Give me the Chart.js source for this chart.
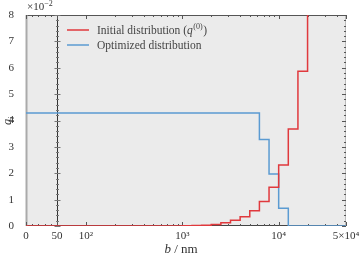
<!DOCTYPE html>
<html>
<head>
<meta charset="utf-8">
<script src="https://cdn.jsdelivr.net/npm/chart.js@4"></script>
<style>
  html, body { margin: 0; padding: 0; background: #fff; }
  #wrap { width: 364px; height: 257px; }
</style>
</head>
<body>
<div id="wrap"><canvas id="chart" width="364" height="257"></canvas></div>
<script>
// bin edges in nm, one value per bin
const initialEdges = [0, 1000, 1259, 1585, 1995, 2512, 3162, 3981, 5012, 6310, 7943, 10000, 12589, 15849, 19953, 25119, 31623, 50000];
const initialValues = [0, 0.0001, 0.0002, 0.0003, 0.0006, 0.0012, 0.0022, 0.0035, 0.0058, 0.0093, 0.0147, 0.0231, 0.0368, 0.0587, 0.093, 0.14, 0.2];
const optimizedEdges = [0, 6310, 7943, 10000, 12589, 50000];
const optimizedValues = [0.0428, 0.0328, 0.0197, 0.0067, 0];

const xMajorTicks = [0, 50, 100, 1000, 10000, 50000];
const xTickLabels = ['0', '50', '10²', '10³', '10⁴', '5×10⁴'];
const xMinorTicks = [10, 20, 30, 40, 200, 300, 400, 500, 600, 700, 800, 900,
  2000, 3000, 4000, 5000, 6000, 7000, 8000, 9000, 20000, 30000, 40000];
const yMajorTicks = [0, 0.01, 0.02, 0.03, 0.04, 0.05, 0.06, 0.07, 0.08];
const yTickLabels = ['0', '1', '2', '3', '4', '5', '6', '7', '8'];

// linear 0..50 nm, then log10 up to 5e4 nm
const BREAK = 50, LIN_WIDTH = 0.322;
const fx = b => b <= BREAK ? LIN_WIDTH * b / BREAK : LIN_WIDTH + Math.log10(b / BREAK);
const steps = (edges, vals) => edges.map((b, i) => ({ x: fx(b), y: vals[Math.min(i, vals.length - 1)] }));

const SERIF = '"Liberation Serif", "DejaVu Serif", serif';
const RED = '#e0393d', BLUE = '#5b9bd2';

const frame = {
  id: 'frame',
  beforeDatasetsDraw(chart) {
    const { ctx, chartArea: a, scales: { x, y } } = chart;
    ctx.save();
    ctx.fillStyle = '#ebebeb';
    ctx.fillRect(a.left, a.top, a.right - a.left, a.bottom - a.top);

    const line = (x1, y1, x2, y2, col, w) => {
      ctx.strokeStyle = col; ctx.lineWidth = w;
      ctx.beginPath(); ctx.moveTo(x1, y1); ctx.lineTo(x2, y2); ctx.stroke();
    };
    line(a.left, a.top + 0.5, a.right, a.top + 0.5, '#555', 1);
    line(a.left, a.bottom - 0.5, a.right, a.bottom - 0.5, '#444', 1);
    line(a.right - 0.5, a.top, a.right - 0.5, a.bottom, '#bbb', 1);
    line(a.left + 0.5, a.top, a.left + 0.5, a.bottom, '#aaa', 2);
    const xb = Math.round(x.getPixelForValue(fx(BREAK))) + 0.5;
    line(xb, a.top, xb, a.bottom, '#333', 1);

    // inward tick marks
    const tickCol = '#555';
    xMajorTicks.forEach(v => {
      const px = Math.round(x.getPixelForValue(fx(v))) + 0.5;
      line(px, a.bottom, px, a.bottom - 4, tickCol, 1);
      line(px, a.top, px, a.top + 4, tickCol, 1);
    });
    xMinorTicks.forEach(v => {
      const px = Math.round(x.getPixelForValue(fx(v))) + 0.5;
      line(px, a.bottom, px, a.bottom - 2, tickCol, 1);
      line(px, a.top, px, a.top + 2, tickCol, 1);
    });
    for (let k = 0; k <= 40; k++) {
      const py = Math.round(y.getPixelForValue(k * 0.002)) + 0.5;
      const major = k % 5 === 0;
      line(a.right, py, a.right - (major ? 4 : 2), py, tickCol, 1);
      line(xb - (major ? 3 : 1.5), py, xb + (major ? 3 : 1.5), py, '#777', 1);
    }
    ctx.restore();
  },
  afterDraw(chart) {
    const { ctx, chartArea: a } = chart;
    ctx.save();
    ctx.fillStyle = '#333';
    ctx.textBaseline = 'alphabetic';

    // exponent above y axis
    ctx.font = '11px ' + SERIF;
    ctx.textAlign = 'left';
    ctx.fillText('×10', a.left + 1, 10);
    const w10 = ctx.measureText('×10').width;
    ctx.font = '8px ' + SERIF;
    ctx.fillText('−2', a.left + 1 + w10, 6);

    // x title
    ctx.font = 'italic 13px ' + SERIF;
    const wb = ctx.measureText('b').width;
    ctx.font = '13px ' + SERIF;
    const wr = ctx.measureText(' / nm').width;
    const x0 = 181 - (wb + wr) / 2;
    ctx.font = 'italic 13px ' + SERIF;
    ctx.fillText('b', x0, 253);
    ctx.font = '13px ' + SERIF;
    ctx.fillText(' / nm', x0 + wb, 253);

    // y title
    ctx.translate(11, 121);
    ctx.rotate(-Math.PI / 2);
    ctx.font = 'italic 12px ' + SERIF;
    ctx.fillText('q', -4, 0);
    ctx.font = 'italic 8px ' + SERIF;
    ctx.fillText('i', 2, 3);
    ctx.setTransform(1, 0, 0, 1, 0, 0);

    // legend
    const rows = [[RED, 30], [BLUE, 45]];
    rows.forEach(([c, yy]) => {
      ctx.strokeStyle = c; ctx.lineWidth = 1.5;
      ctx.beginPath(); ctx.moveTo(67, yy); ctx.lineTo(89, yy); ctx.stroke();
    });
    ctx.fillStyle = '#444';
    let tx = 97;
    ctx.font = '11.5px ' + SERIF;
    ctx.fillText('Initial distribution (', tx, 34);
    tx += ctx.measureText('Initial distribution (').width;
    ctx.font = 'italic 11.5px ' + SERIF;
    ctx.fillText('q', tx, 34);
    tx += ctx.measureText('q').width + 0.5;
    ctx.font = '8px ' + SERIF;
    ctx.fillText('(0)', tx, 29);
    tx += ctx.measureText('(0)').width + 0.5;
    ctx.font = '11.5px ' + SERIF;
    ctx.fillText(')', tx, 34);
    ctx.fillText('Optimized distribution', 97, 49);
    ctx.restore();
  }
};

new Chart(document.getElementById('chart'), {
  type: 'line',
  data: {
    datasets: [
      { label: 'Initial distribution', data: steps(initialEdges, initialValues),
        borderColor: RED, borderWidth: 1.5, stepped: 'before', pointRadius: 0, fill: false },
      { label: 'Optimized distribution', data: steps(optimizedEdges, optimizedValues),
        borderColor: BLUE, borderWidth: 1.5, stepped: 'before', pointRadius: 0, fill: false }
    ]
  },
  options: {
    responsive: false,
    animation: false,
    layout: { padding: { top: 15, right: 18, left: 0, bottom: 0 } },
    plugins: { legend: { display: false }, tooltip: { enabled: false } },
    scales: {
      x: {
        type: 'linear', min: 0, max: fx(50000),
        afterBuildTicks: s => { s.ticks = xMajorTicks.map(v => ({ value: fx(v) })); },
        afterFit: s => { s.height = 31; },
        grid: { display: false }, border: { display: false },
        ticks: { callback: (v, i) => xTickLabels[i], autoSkip: false, maxRotation: 0,
          padding: -4, color: '#333', font: { family: SERIF, size: 11 } }
      },
      y: {
        min: 0, max: 0.08,
        afterBuildTicks: s => { s.ticks = yMajorTicks.map(v => ({ value: v })); },
        afterFit: s => { s.width = 26; },
        grid: { display: false }, border: { display: false },
        ticks: { callback: (v, i) => yTickLabels[i], padding: 4,
          color: '#333', font: { family: SERIF, size: 11 } }
      }
    }
  },
  plugins: [frame]
});
</script>
</body>
</html>
